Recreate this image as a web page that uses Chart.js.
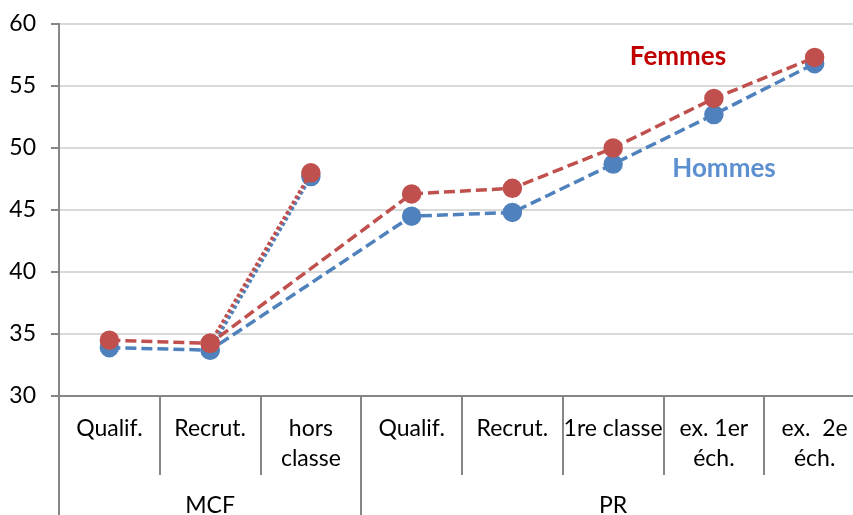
<!DOCTYPE html>
<html>
<head>
<meta charset="utf-8">
<script src="https://cdn.jsdelivr.net/npm/chart.js@4"></script>
<style>
  html, body { margin: 0; padding: 0; background: #fff; overflow: hidden; }
  #wrap { position: relative; width: 866px; min-width: 866px; height: 515px; }
  #chart { max-width: none !important; }
</style>
</head>
<body>
<div id="wrap"><canvas id="chart" width="866" height="515"></canvas></div>
<script>
// categories (first level) and their groups (second level)
const categories = [['Qualif.'], ['Recrut.'], ['hors', 'classe'], ['Qualif.'], ['Recrut.'], ['1re classe'], ['ex. 1er', 'éch.'], ['ex.  2e', 'éch.']];
const groupLabels = ['MCF', 'PR'];
const groupSizes = [3, 5];

// ages, the dashed career path skips "hors classe"
const hommes = [33.9, 33.7, null, 44.5, 44.8, 48.7, 52.7, 56.8];
const femmes = [34.5, 34.25, null, 46.3, 46.75, 50.0, 54.0, 57.3];
// dotted branch Recrut. -> hors classe
const hommesHorsClasse = [null, 33.7, 47.7, null, null, null, null, null];
const femmesHorsClasse = [null, 34.25, 48.0, null, null, null, null, null];

const yTicks = [30, 35, 40, 45, 50, 55, 60];

const blue = '#4F81BD';
const red = '#C0504D';
const axisGray = '#868686';
const gridGray = '#D9D9D9';
const fontFamily = 'Lato, "Open Sans", sans-serif';

function lineDataset(label, data, color, dash, order) {
  return {
    label,
    data,
    borderColor: color,
    backgroundColor: color,
    pointBackgroundColor: color,
    pointBorderColor: color,
    borderWidth: 3.5,
    borderDash: dash,
    pointRadius: 8,
    pointHoverRadius: 8,
    spanGaps: true,
    tension: 0,
    order
  };
}

const categoryAxisPlugin = {
  id: 'categoryAxis',
  afterDraw(chart) {
    const { ctx, chartArea } = chart;
    const xs = chart.scales.x;
    const step = xs.getPixelForValue(1) - xs.getPixelForValue(0);
    const edge = (i) => xs.getPixelForValue(0) - step / 2 + i * step;
    const top = xs.top;
    const bottom = chart.height;
    const shortEnd = top + 79;

    const groupEdges = [0];
    groupSizes.forEach((n) => groupEdges.push(groupEdges[groupEdges.length - 1] + n));

    ctx.save();
    ctx.strokeStyle = axisGray;
    ctx.lineWidth = 2;
    for (let i = 0; i <= categories.length; i++) {
      const x = Math.round(edge(i));
      ctx.beginPath();
      ctx.moveTo(x, top);
      ctx.lineTo(x, groupEdges.includes(i) ? bottom : shortEnd);
      ctx.stroke();
    }

    ctx.fillStyle = '#000';
    ctx.font = '23px ' + fontFamily;
    ctx.textAlign = 'center';
    ctx.textBaseline = 'middle';
    categories.forEach((lines, i) => {
      const x = xs.getPixelForValue(i);
      lines.forEach((line, j) => ctx.fillText(line, x, top + 33 + j * 30));
    });

    groupLabels.forEach((label, g) => {
      const x = (edge(groupEdges[g]) + edge(groupEdges[g + 1])) / 2;
      ctx.fillText(label, x, top + 110);
    });

    // series names
    ctx.font = 'bold 26px ' + fontFamily;
    ctx.fillStyle = '#C00000';
    ctx.fillText('Femmes', chartArea.left + 619, chartArea.top + 33);
    ctx.fillStyle = '#5B8FD0';
    ctx.fillText('Hommes', chartArea.left + 665, chartArea.top + 145);
    ctx.restore();
  }
};

new Chart(document.getElementById('chart'), {
  type: 'line',
  data: {
    labels: categories.map((c) => c.join(' ')),
    datasets: [
      lineDataset('Femmes', femmes, red, [11, 5], 1),
      lineDataset('Femmes hors classe', femmesHorsClasse, red, [3.5, 2.5], 2),
      lineDataset('Hommes', hommes, blue, [11, 5], 3),
      lineDataset('Hommes hors classe', hommesHorsClasse, blue, [3.5, 2.5], 4)
    ]
  },
  options: {
    responsive: false,
    animation: false,
    events: [],
    // the plot runs past the right edge of the window, as in the source
    layout: { autoPadding: false, padding: { top: 24, left: 0, right: 1, bottom: 0 } },
    plugins: {
      legend: { display: false },
      tooltip: { enabled: false }
    },
    scales: {
      x: {
        offset: true,
        grid: { display: false, drawTicks: false },
        border: { display: true, color: axisGray, width: 2 },
        ticks: { display: false },
        afterFit(scale) {
          scale.height = 119;
          scale.paddingLeft = 0;
          scale.paddingRight = 0;
        }
      },
      y: {
        min: 30,
        max: 60,
        afterBuildTicks(scale) { scale.ticks = yTicks.map((v) => ({ value: v })); },
        grid: { color: gridGray, lineWidth: 2, tickLength: 8, tickColor: axisGray, tickWidth: 2 },
        border: { display: true, color: axisGray, width: 2 },
        ticks: {
          color: '#000',
          padding: 15,
          font: { family: fontFamily, size: 23 }
        },
        afterFit(scale) {
          scale.width = 59;
          scale.paddingTop = 0;
          scale.paddingBottom = 0;
        }
      }
    }
  },
  plugins: [categoryAxisPlugin]
});
</script>
</body>
</html>
